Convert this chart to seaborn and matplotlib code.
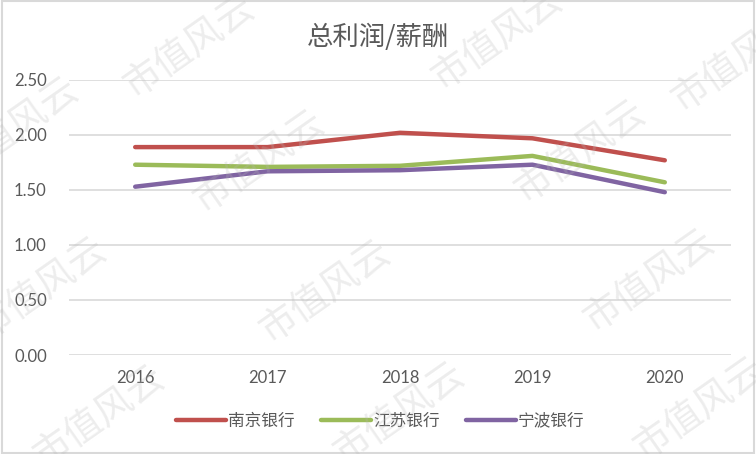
import pandas as pd
import matplotlib.pyplot as plt
import matplotlib.patches as patches
import seaborn as sns

years = [2016, 2017, 2018, 2019, 2020]
nanjing = [1.89, 1.89, 2.02, 1.97, 1.77]
jiangsu = [1.73, 1.71, 1.72, 1.81, 1.57]
ningbo = [1.53, 1.67, 1.68, 1.73, 1.48]
banks = ['南京银行', '江苏银行', '宁波银行']
colors = ['#C0504D', '#9BBB59', '#8064A2']
yticks = [0.0, 0.5, 1.0, 1.5, 2.0, 2.5]

df = pd.DataFrame({'year': years * 3,
                   'value': nanjing + jiangsu + ningbo,
                   'bank': [b for b in banks for _ in years]})

sns.set_theme(style="white")
plt.rcParams['font.family'] = ['Noto Sans CJK SC', 'DejaVu Sans']

fig = plt.figure(figsize=(7.56, 4.54), dpi=100)
ax = fig.add_axes([69 / 756, 1 - 355 / 454, (731 - 69) / 756, (355 - 80) / 454])

sns.lineplot(data=df, x='year', y='value', hue='bank', palette=colors,
             linewidth=3.2, ax=ax, legend=False, zorder=3)
for l in ax.lines:
    l.set_solid_capstyle('round')
    l.set_solid_joinstyle('round')

ax.set_xlim(2015.5, 2020.5)
ax.set_ylim(0, 2.5)
ax.set_xticks(years)
ax.set_xticklabels([str(y) for y in years])
ax.set_yticks(yticks)
ax.set_yticklabels([f'{v:.2f}' for v in yticks])
ax.tick_params(axis='both', length=0, labelsize=12, labelcolor='#595959')
ax.tick_params(axis='x', pad=11)
ax.tick_params(axis='y', pad=16)
for lab in ax.get_xticklabels() + ax.get_yticklabels():
    lab.set_family(['Lato', 'DejaVu Sans'])
ax.grid(axis='y', color='#D9D9D9', linewidth=1.2)
ax.grid(axis='x', visible=False)
for s in ax.spines.values():
    s.set_visible(False)
ax.set_xlabel('')
ax.set_ylabel('')

fig.text(0.5, 1 - 37 / 454, '总利润/薪酬', ha='center', va='center',
         fontsize=19, color='#595959')

# legend
handles = [plt.Line2D([], [], color=c, linewidth=3.2, solid_capstyle='round') for c in colors]
fig.legend(handles, banks, loc='center', bbox_to_anchor=(0.503, 1 - 421 / 454),
           ncol=3, frameon=False, handlelength=3.0,
           handletextpad=0.1, columnspacing=1.6, labelcolor='#595959',
           prop={'size': 12})

# watermark
marks = [(190, 48), (260, 163), (498, 40), (581, 153), (738, 62), (42, 290),
         (326, 293), (100, 418), (650, 282), (400, 415), (700, 410), (14, 130)]
for x, y in marks:
    fig.text(x / 756, 1 - y / 454, '市值风云', ha='center', va='center',
             fontsize=27, color='#B8B8B8', alpha=0.25, rotation=35, zorder=10)

fig.patches.append(patches.Rectangle((0.002, 0.003), 0.996, 0.994, transform=fig.transFigure,
                                     fill=False, edgecolor='#D9D9D9', linewidth=1.5))

fig.savefig('out.png', dpi=100)
